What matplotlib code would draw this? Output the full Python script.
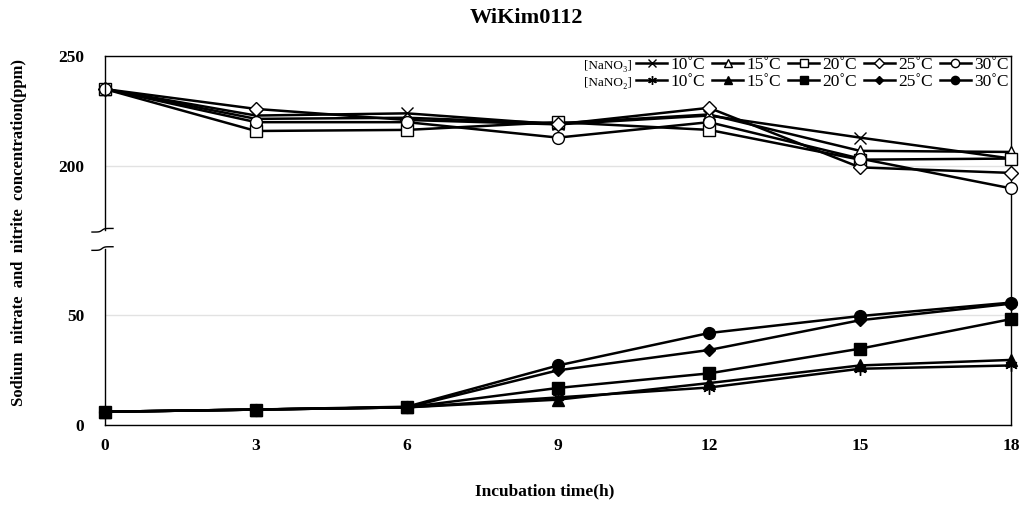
import numpy as np
import matplotlib
matplotlib.use("Agg")
import matplotlib.pyplot as plt

# ---------------- data ----------------
time_h = [0, 3, 6, 9, 12, 15, 18]
temp_labels = ["10˚C", "15˚C", "20˚C", "25˚C", "30˚C"]

nitrate_10 = [235, 223, 224, 219, 223, 213, 203.5]
nitrate_15 = [235, 221.5, 222, 219.5, 223.5, 207, 206.5]
nitrate_20 = [235, 216, 216.5, 220, 216.5, 203, 203.5]
nitrate_25 = [235, 226, 221, 219, 226.5, 199.5, 197]
nitrate_30 = [235, 220, 220, 213, 220, 203.5, 190]

nitrite_10 = [6, 7, 8, 12.5, 17, 25.5, 27]
nitrite_15 = [6, 7, 8, 11.5, 19, 27, 29.5]
nitrite_20 = [6, 7, 8, 16.8, 23.4, 34.6, 48]
nitrite_25 = [6, 7, 8, 24.8, 34, 47.5, 55]
nitrite_30 = [6, 7, 8.3, 27, 41.7, 49.4, 55.5]

x_ticks = [0, 3, 6, 9, 12, 15, 18]
y_ticks = [0, 50, 200, 250]

title = "WiKim0112"
x_label = "Incubation time(h)"
y_label = "Sodium  nitrate  and  nitrite  concentration(ppm)"
nitrate_tag = "[NaNO₃]"
nitrite_tag = "[NaNO₂]"

# ---------------- style ----------------
serif = ["Liberation Serif", "DejaVu Serif"]
plt.rcParams["font.family"] = serif

fig = plt.figure(figsize=(10.24, 5.05), dpi=100)
ax = fig.add_axes([105 / 1024, 1 - 425 / 505, 906 / 1024, 369 / 505])

# broken y axis as a piecewise-linear function scale
_src = [-1000, 0, 80, 171, 250, 1000]
_dst = [-1000, 0, 80, 88.3, 167.3, 917.3]


def fwd(v):
    return np.interp(v, _src, _dst)


def inv(v):
    return np.interp(v, _dst, _src)


ax.set_yscale("function", functions=(fwd, inv))
ax.set_ylim(0, 250)
ax.set_xlim(0, 18)

lw = 1.8
open_markers = ["x", "^", "s", "D", "o"]
filled_markers = [(6, 2, 0), "^", "s", "D", "o"]
open_ms = [8, 8, 8, 7, 8.5]
filled_ms = [9, 8, 8, 6.5, 8.5]

nitrate = [nitrate_10, nitrate_15, nitrate_20, nitrate_25, nitrate_30]
nitrite = [nitrite_10, nitrite_15, nitrite_20, nitrite_25, nitrite_30]

handles = []
for i in range(5):
    h1, = ax.plot(time_h, nitrate[i], color="black", lw=lw, marker=open_markers[i],
                  ms=open_ms[i], mfc="white", mec="black", mew=1.0,
                  label=temp_labels[i], clip_on=False, zorder=3)
    h2, = ax.plot(time_h, nitrite[i], color="black", lw=lw, marker=filled_markers[i],
                  ms=filled_ms[i], mfc="black", mec="black", mew=1.0,
                  label=temp_labels[i], clip_on=False, zorder=3)
    handles += [h1, h2]

ax.set_xticks(x_ticks)
ax.set_yticks(y_ticks)
ax.tick_params(axis="both", length=0, labelsize=12.5)
ax.tick_params(axis="y", pad=15)
ax.tick_params(axis="x", pad=9)
for lab in ax.get_xticklabels() + ax.get_yticklabels():
    lab.set_fontweight("bold")

ax.grid(axis="y", color="#e2e2e2", lw=1.0)
ax.set_axisbelow(True)

for side in ["top", "right", "bottom"]:
    ax.spines[side].set_linewidth(1.0)
ax.spines["left"].set_visible(False)

# left spine in two parts with break marks
yt = ax.get_yaxis_transform()
ax.plot([0, 0], [0, 80], transform=yt, color="black", lw=1.0, clip_on=False, zorder=4)
ax.plot([0, 0], [171, 250], transform=yt, color="black", lw=1.0, clip_on=False, zorder=4)

ax_h_px = 369.0
ax_w_px = 906.0
for yb in (80, 171):
    yfrac = fwd(yb) / fwd(250)
    dx = np.linspace(-13, 8, 40)
    dy = 1.8 * np.tanh((dx + 3) / 2.5)
    ax.plot(dx / ax_w_px, yfrac + dy / ax_h_px, transform=ax.transAxes,
            color="black", lw=1.0, clip_on=False, zorder=4)

# labels
fig.text(0.514, 1 - 18 / 505, title, ha="center", va="center",
         fontsize=16, fontweight="bold")
fig.text(545 / 1024, 1 - 491 / 505, x_label, ha="center", va="center",
         fontsize=12.5, fontweight="bold")
fig.text(19 / 1024, 1 - 233 / 505, y_label, ha="center", va="center",
         rotation=90, fontsize=12, fontweight="bold")

# legend
leg = ax.legend(handles=handles, ncol=5, loc="upper right",
                bbox_to_anchor=(1009 / 1024, 1 - 57 / 505),
                bbox_transform=fig.transFigure, frameon=False,
                fontsize=12.5, handlelength=1.8, handletextpad=0.2,
                columnspacing=0.38, labelspacing=0.02, borderpad=0.0,
                borderaxespad=0.0, markerscale=0.7)
fig.text(584 / 1024, 1 - 66 / 505, nitrate_tag, ha="left", va="center", fontsize=9.5)
fig.text(584 / 1024, 1 - 83 / 505, nitrite_tag, ha="left", va="center", fontsize=9.5)

fig.savefig("out.png", dpi=100)
